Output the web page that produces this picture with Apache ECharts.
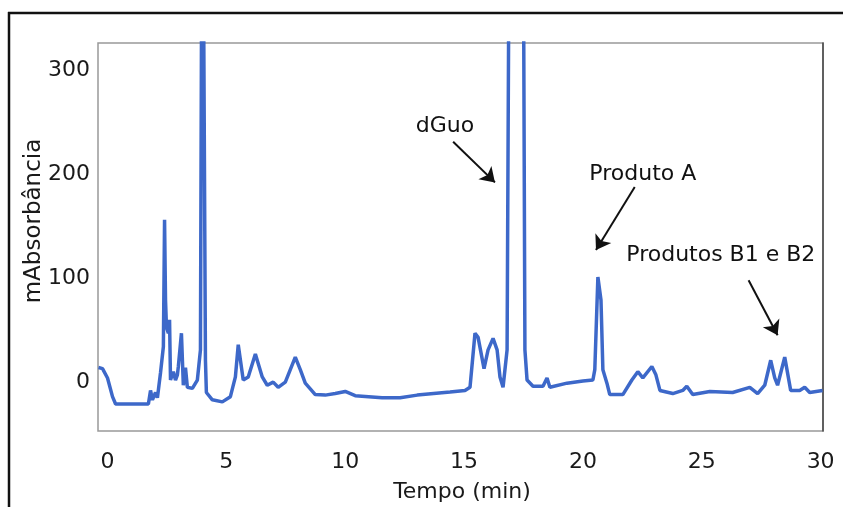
<!DOCTYPE html>
<html>
<head>
<meta charset="utf-8">
<script src="https://cdn.jsdelivr.net/npm/echarts@6/dist/echarts.min.js"></script>
<style>html,body{margin:0;padding:0;background:#fff;}#chart{width:843px;height:507px;}</style>
</head>
<body>
<div id="chart"></div>
<script>
// Retention time (min) and absorbance (mAU)
const times = [-0.38,-0.21,0,0.21,0.34,1.72,1.81,1.89,2.02,2.10,2.23,2.35,2.40,2.44,2.48,2.56,2.61,2.65,2.77,2.86,2.94,2.98,3.11,3.19,3.28,3.36,3.57,3.78,3.91,3.99,4.12,4.16,4.41,4.83,5.17,5.38,5.50,5.71,5.92,6.22,6.51,6.72,6.97,7.18,7.48,7.69,7.90,8.11,8.32,8.74,9.16,9.58,10.0,10.42,11.55,12.31,13.03,14.41,15.04,15.25,15.46,15.59,15.84,16.01,16.22,16.39,16.51,16.64,16.81,16.95,17.2,17.45,17.56,17.65,17.90,18.32,18.49,18.61,19.33,20.0,20.42,20.50,20.63,20.76,20.84,21.01,21.13,21.68,22.06,22.31,22.52,22.90,23.07,23.24,23.78,24.20,24.37,24.62,25.34,26.30,27.02,27.35,27.65,27.90,28.07,28.19,28.49,28.74,29.12,29.33,29.54,30.08];
const absorbance = [14,13,4,-14,-21,-21,-8,-17,-10,-15,9,34,156,79,53,47,60,2,10,2,7,15,47,-3,14,-5,-6,2,31,600,21,-10,-17,-19,-14,5,36,2,5,27,5,-3,0,-5,0,12,24,12,-1,-12,-12.5,-11,-9,-13,-15,-15,-12.5,-9.6,-8,-5,47,43,13,31,42,31,5,-5,31,700,1500,700,31,2,-4,-4,4,-5,-1,1,2,12,101,79,12,-1,-12,-12,2,10,4,15,7,-8,-11,-8,-4,-12,-9,-10,-5,-11,-3,21,4,-3,24,-8,-8,-5,-10,-8];
const xTicks = [0,5,10,15,20,25,30];
const yTicks = [0,100,200,300];
const annotations = ['dGuo','Produto A','Produtos B1 e B2'];
const labelPos = [[14.20,246],[22.52,200],[25.80,122]];
const arrowFrom = [[14.54,231],[22.18,187.5],[26.97,98]];
const arrowTo = [[16.30,192],[20.55,127],[28.19,45]];

const font = 'DejaVu Sans';
const chart = echarts.init(document.getElementById('chart'));
chart.setOption({
  animation: false,
  backgroundColor: '#fff',
  grid: {left: 98, right: 20, top: 43, bottom: 76, show: true, borderColor: '#999', borderWidth: 1.5},
  xAxis: {
    type: 'value', min: -0.4, max: 30.1,
    axisLine: {show: false}, axisTick: {show: false}, splitLine: {show: false},
    axisLabel: {customValues: xTicks, margin: 20, color: '#1a1a1a', fontSize: 22, fontFamily: font}
  },
  yAxis: [{
    type: 'value', min: -47, max: 326,
    axisLine: {show: false}, axisTick: {show: false}, splitLine: {show: false},
    axisLabel: {customValues: yTicks, margin: 8, color: '#1a1a1a', fontSize: 22, fontFamily: font}
  },{
    type: 'value', min: -47, max: 326, position: 'right',
    axisLine: {show: true, lineStyle: {color: '#444', width: 1.5}},
    axisTick: {show: false}, splitLine: {show: false}, axisLabel: {show: false}
  }],
  graphic: [
    {type: 'line', shape: {x1: 8, y1: 13, x2: 843, y2: 13}, style: {stroke: '#111', lineWidth: 2.5}},
    {type: 'line', shape: {x1: 9, y1: 12, x2: 9, y2: 507}, style: {stroke: '#111', lineWidth: 2.5}},
    {type: 'text', x: 34, y: 221, rotation: Math.PI / 2,
     style: {text: 'mAbsorbância', fontSize: 23, fontFamily: font, fill: '#1a1a1a', align: 'center', verticalAlign: 'middle'}},
    {type: 'text', x: 462, y: 492,
     style: {text: 'Tempo (min)', fontSize: 22, fontFamily: font, fill: '#1a1a1a', align: 'center', verticalAlign: 'middle'}}
  ],
  series: [{
    type: 'line',
    data: times.map((t, i) => [t, absorbance[i]]),
    showSymbol: false,
    clip: true,
    lineStyle: {color: '#3d68c9', width: 3.5},
    markPoint: {
      symbol: 'circle', symbolSize: 0,
      label: {show: true, position: 'inside', color: '#111', fontSize: 22, fontFamily: font,
        formatter: p => p.name},
      data: annotations.map((n, i) => ({name: n, coord: labelPos[i]}))
    },
    markLine: {
      silent: true,
      symbol: ['none', 'arrow'],
      symbolSize: 14,
      label: {show: false},
      lineStyle: {color: '#111', width: 2, type: 'solid'},
      data: arrowFrom.map((f, i) => [{coord: f}, {coord: arrowTo[i]}])
    }
  }]
});
</script>
</body>
</html>
